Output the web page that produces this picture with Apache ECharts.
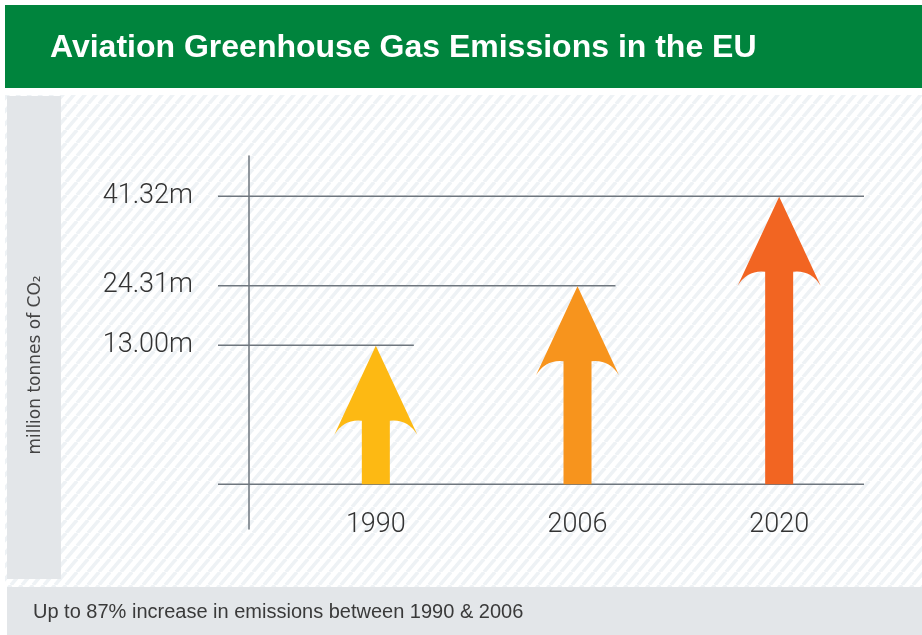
<!DOCTYPE html>
<html>
<head>
<meta charset="utf-8">
<script src="https://cdn.jsdelivr.net/npm/echarts@6/dist/echarts.min.js"></script>
<style>
html,body{margin:0;padding:0;background:#fff;}
#chart{width:922px;height:635px;}
</style>
</head>
<body>
<div id="chart"></div>
<script>
// ---- data ----
const years = ['1990', '2006', '2020'];
const emissions = [13.00, 24.31, 41.32];           // million tonnes of CO2
const tickLabels = ['13.00m', '24.31m', '41.32m']; // labels at the emission levels
const arrowColors = ['#FDB913', '#F7941D', '#F26522'];
const titleText = 'Aviation Greenhouse Gas Emissions in the EU';
const footerText = 'Up to 87% increase in emissions between 1990 & 2006';
const axisName = 'million tonnes of CO₂';

// axis configuration (the infographic's vertical scale is offset: arrows start at baseValue)
const baseValue = -13.5;
const yMin = -22, yMax = 49;

const chart = echarts.init(document.getElementById('chart'), null, {renderer: 'canvas'});

// striped background pattern
function makeStripes() {
  const w = 11, h = 13;
  const c = document.createElement('canvas');
  c.width = w; c.height = h;
  const ctx = c.getContext('2d');
  ctx.fillStyle = '#ffffff';
  ctx.fillRect(0, 0, w, h);
  ctx.strokeStyle = '#eef2f5';
  ctx.lineWidth = 3.5;
  for (let k = -1; k <= 1; k++) {
    ctx.beginPath();
    ctx.moveTo(k * w, h);
    ctx.lineTo(k * w + w, 0);
    ctx.stroke();
  }
  return c;
}

const lineColor = '#6e767e';

function renderArrow(params, api) {
  const i = params.dataIndex;
  const cs = params.coordSys;
  const p = api.coord([api.value(0), api.value(1)]);
  const cx = p[0], tipY = p[1];
  const baseY = api.coord([api.value(0), baseValue])[1];
  const n = params.dataInsideLength;
  const left = cs.x - 57;
  const right = (i === n - 1) ? cs.x + cs.width - 16 : cx + 38;
  const headHalf = 41.5, shaftHalf = 14, headLen = 89, neck = 75;
  const children = [];
  if (i === 0) {
    children.push({
      type: 'line',
      shape: {x1: left, y1: baseY, x2: cs.x + cs.width - 16, y2: baseY},
      style: {stroke: lineColor, lineWidth: 1.5}
    });
  }
  children.push({
    type: 'line',
    shape: {x1: left, y1: tipY, x2: right, y2: tipY},
    style: {stroke: lineColor, lineWidth: 1.5}
  });
  const t = tipY + 0.5;
  const d = [
    'M', cx, t,
    'L', cx + headHalf, t + headLen,
    'Q', cx + headHalf - 10, t + neck - 2, cx + shaftHalf, t + neck,
    'L', cx + shaftHalf, baseY,
    'L', cx - shaftHalf, baseY,
    'L', cx - shaftHalf, t + neck,
    'Q', cx - headHalf + 10, t + neck - 2, cx - headHalf, t + headLen,
    'Z'
  ].join(' ');
  children.push({
    type: 'path',
    shape: {pathData: d},
    style: {fill: arrowColors[i]}
  });
  return {type: 'group', children: children};
}

const option = {
  animation: false,
  backgroundColor: '#ffffff',
  title: [
    {
      text: titleText,
      left: 50, top: 32, padding: 0,
      textStyle: {color: '#ffffff', fontSize: 32, fontWeight: 'bold', fontFamily: 'Liberation Sans, Arial, sans-serif'}
    },
    {
      text: footerText,
      left: 33, top: 602, padding: 0,
      textStyle: {color: '#3a3a3a', fontSize: 20, fontWeight: 'normal', fontFamily: 'Liberation Sans, Arial, sans-serif'}
    }
  ],
  graphic: [
    {type: 'rect', z: -10, silent: true, shape: {x: 5, y: 95, width: 917, height: 492},
     style: {fill: {image: makeStripes(), repeat: 'repeat'}}},
    {type: 'rect', z: -9, silent: true, shape: {x: 5, y: 5, width: 917, height: 83}, style: {fill: '#00843D'}},
    {type: 'rect', z: -9, silent: true, shape: {x: 7, y: 96, width: 54, height: 483}, style: {fill: '#e3e6e9'}},
    {type: 'rect', z: -9, silent: true, shape: {x: 7, y: 587, width: 915, height: 48}, style: {fill: '#e3e6e9'}},
    {type: 'text', z: 5, silent: true, x: 36, y: 365, rotation: Math.PI / 2,
     style: {text: axisName, fill: '#444444', fontSize: 17, fontFamily: 'DejaVu Sans, sans-serif',
             align: 'center', verticalAlign: 'middle'}}
  ],
  grid: {left: 275, right: 42, top: 156, bottom: 106, containLabel: false},
  xAxis: {
    type: 'category',
    data: years,
    offset: -25,
    axisLine: {show: false},
    axisTick: {show: false},
    axisLabel: {margin: 8, fontSize: 27, color: '#333333', fontFamily: 'Roboto, Liberation Sans, sans-serif', fontWeight: 300}
  },
  yAxis: {
    type: 'value',
    min: yMin, max: yMax,
    offset: 26,
    splitLine: {show: false},
    axisTick: {show: false},
    axisLine: {show: true, lineStyle: {color: lineColor, width: 1.5}},
    axisLabel: {
      customValues: emissions,
      margin: 56,
      fontSize: 27,
      color: '#333333',
      fontFamily: 'Roboto, Liberation Sans, sans-serif',
      fontWeight: 300,
      padding: [0, 0, 4, 0],
      formatter: function (v) {
        const idx = emissions.indexOf(v);
        return idx >= 0 ? tickLabels[idx] : '';
      }
    }
  },
  series: [{
    type: 'custom',
    renderItem: renderArrow,
    data: emissions.map((v, i) => [i, v]),
    encode: {x: 0, y: 1},
    clip: false
  }]
};
chart.setOption(option);
</script>
</body>
</html>
